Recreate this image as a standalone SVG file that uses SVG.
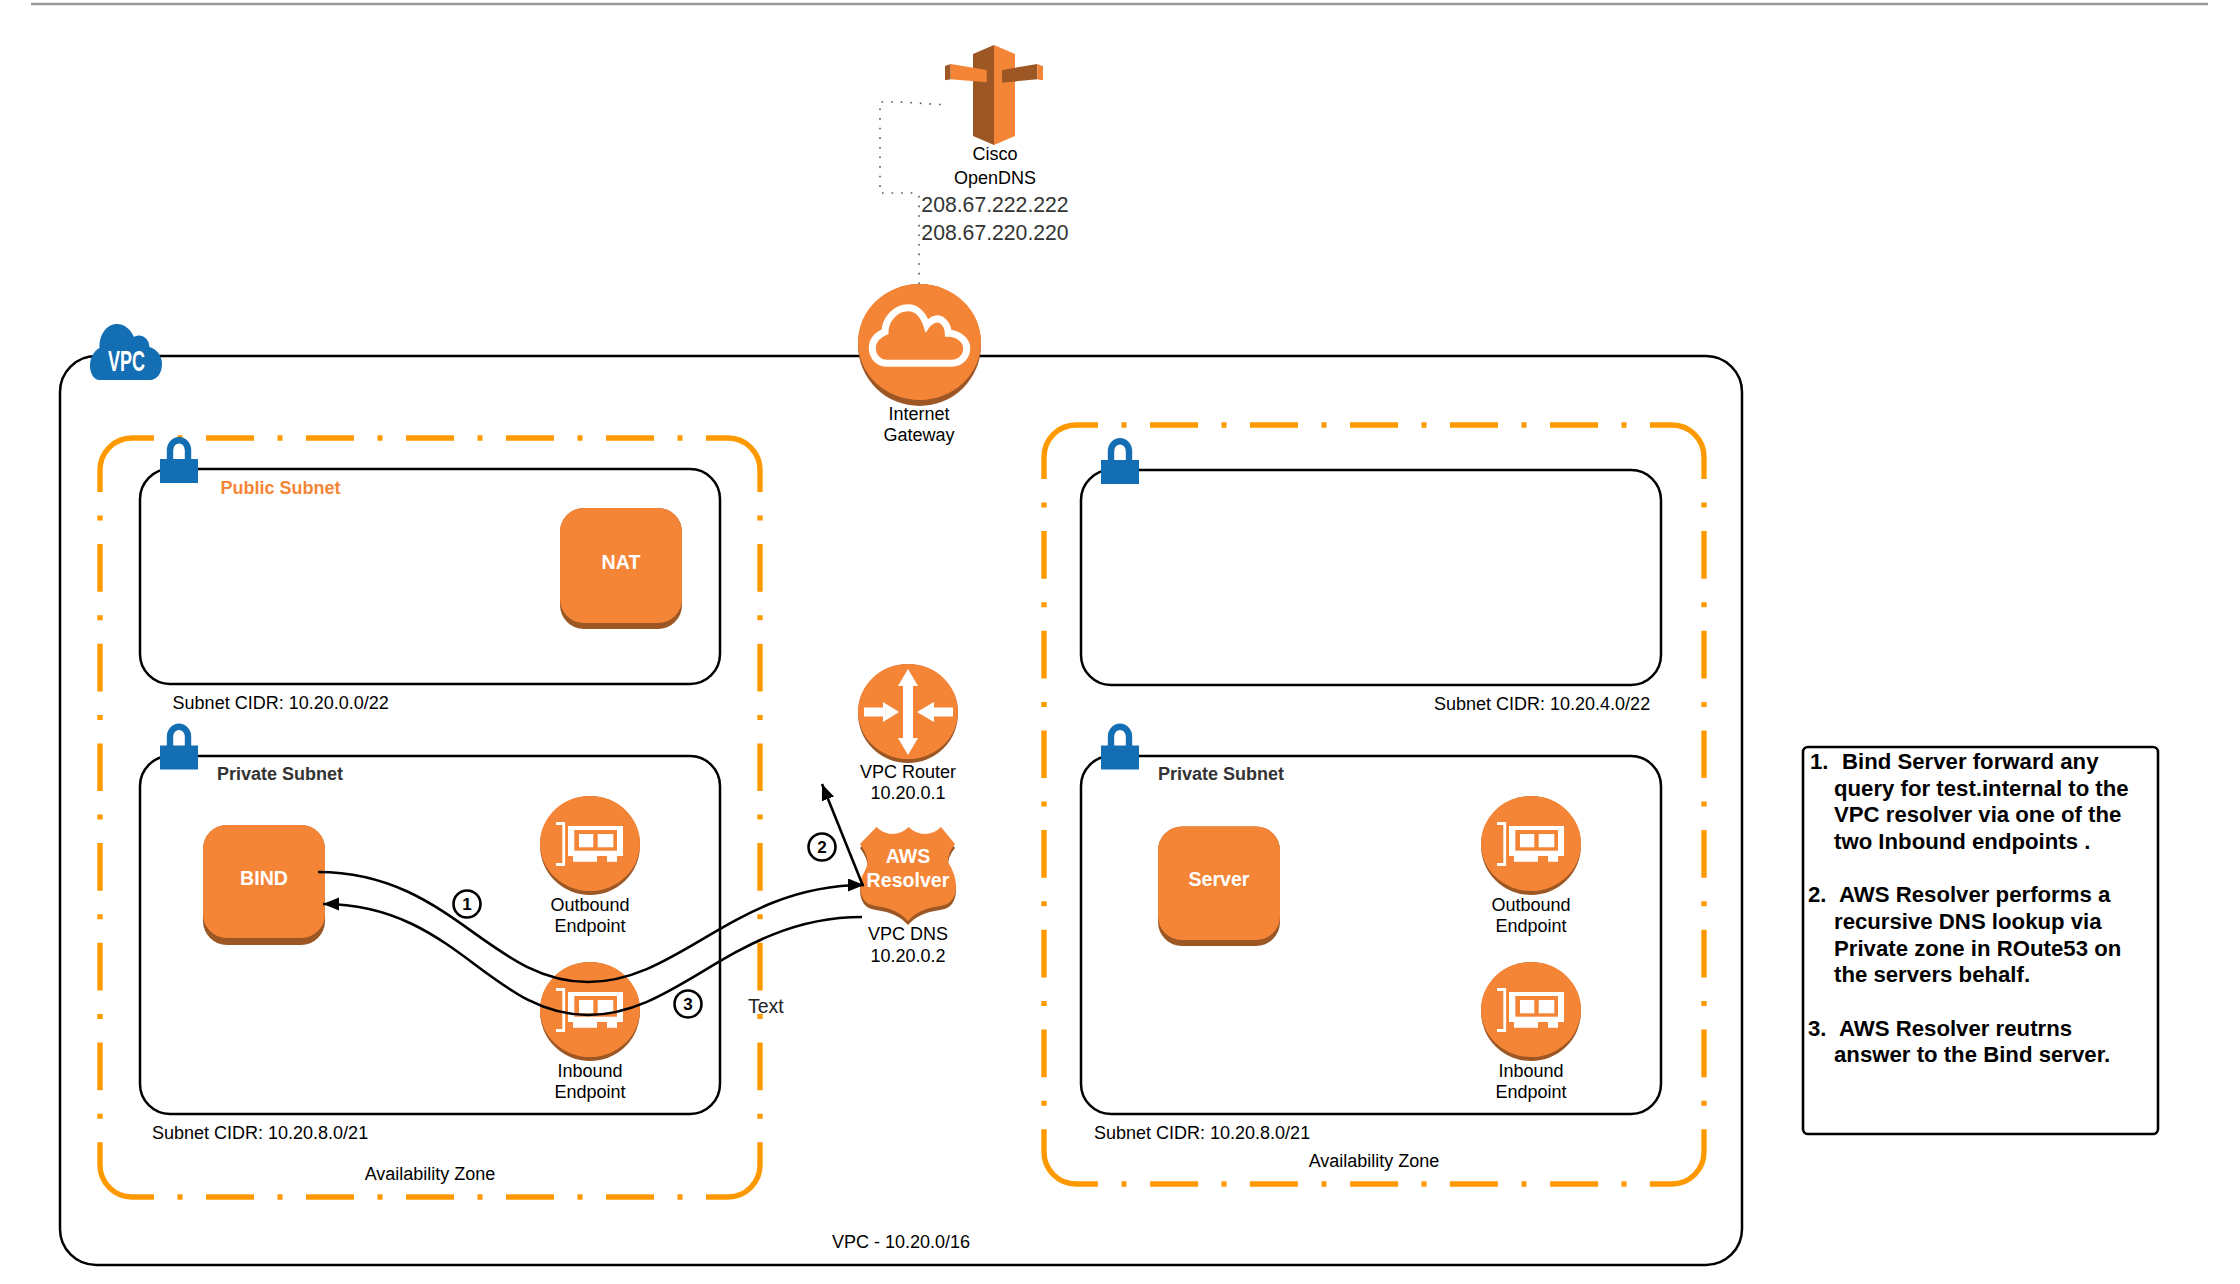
<svg xmlns="http://www.w3.org/2000/svg" xmlns:xlink="http://www.w3.org/1999/xlink" width="2240" height="1284" viewBox="0 0 2240 1284">
<style>
text{font-family:"Liberation Sans",Arial,sans-serif;font-size:18px;fill:#000}
.m{text-anchor:middle}
.b{font-weight:bold}
.w{fill:#fff;font-weight:bold;text-anchor:middle}
.sub{fill:#333;font-weight:bold}
.box{font-size:22.2px;font-weight:bold}
.frame{fill:#fff;stroke:#000;stroke-width:2.5}
.az{fill:none;stroke:#f90;stroke-width:5.4}
.azh{stroke-dasharray:48 23.5 5 23.5;stroke-dashoffset:48}
.azv{stroke-dasharray:47.7 23.5 5 23.5;stroke-dashoffset:47.7}
.o{fill:#F58536}
.d{fill:#9D5725}
.bl{fill:#146EB4}
.wf{fill:#fff}
.con{fill:none;stroke:#000;stroke-width:2.6}
.dot{fill:none;stroke:#555;stroke-width:1.6;stroke-dasharray:1.6 8}
.num{fill:#fff;stroke:#000;stroke-width:2.6}
</style>
<defs>
<marker id="ah" markerUnits="userSpaceOnUse" markerWidth="18" markerHeight="14" refX="16" refY="6.5" orient="auto"><path d="M0,0 L16,6.5 L0,13 Z" fill="#000"/></marker>
<g id="disc"><ellipse cx="0" cy="49.5" rx="50" ry="49.5" class="d"/><ellipse cx="0" cy="47.5" rx="50" ry="47.5" class="o"/></g>
<g id="card"><path d="M-34,27.5 H-26.3 V68.5 H-34" fill="none" stroke="#fff" stroke-width="2.8"/><path class="wf" d="M-22,30 H33 V60 H27 V65.7 H17 V60 H7 V65.7 H-17 V60 H-22 Z"/><rect class="o" x="-15.7" y="34" width="42.7" height="20.7"/><rect class="wf" x="-11" y="38" width="14.3" height="13.3"/><rect class="wf" x="7.7" y="38" width="15.6" height="13.3"/></g>
<g id="lock"><rect class="bl" x="0" y="22" width="38" height="24"/><path d="M10,24 V13 A8.7,9.5 0 0 1 28,13 V24" fill="none" stroke="#146EB4" stroke-width="6.4"/></g>
<path id="shield" d="M876.5,827 Q884,834 892,834 Q902,834 908.5,827 Q916,834 925,834 Q934,834 941,827 L955,844 Q948,852 948,862 Q956,875 956,886 C956,898 950,905 940,906 C925,908 915,913 908,921 C901,913 891,908 876,906 C866,905 860,898 860,886 C860,875 867.5,870 867.5,862 C867.5,855 864,850 860,844 Z"/>
</defs>
<rect width="2240" height="1284" fill="#fff"/>
<line x1="31" y1="4" x2="2208" y2="4" stroke="#999" stroke-width="2.4"/>

<g id="vpc">
<rect class="frame" x="60" y="356" width="1682" height="909" rx="36"/>
<text class="m" x="901" y="1248">VPC - 10.20.0/16</text>
</g>

<g id="az-left">
<path class="az" d="M100,492 V470 A32,32 0 0 1 132,438 H154 M706,438 H728 A32,32 0 0 1 760,470 V492 M760,1143 V1165 A32,32 0 0 1 728,1197 H706 M154,1197 H132 A32,32 0 0 1 100,1165 V1143"/>
<path class="az azh" d="M154,438 H706 M154,1197 H706"/>
<path class="az azv" d="M100,492 V1143 M760,492 V1143"/>
<text class="m" x="430" y="1180">Availability Zone</text>
</g>
<g id="az-right">
<path class="az" d="M1044,479 V457 A32,32 0 0 1 1076,425 H1098 M1650,425 H1672 A32,32 0 0 1 1704,457 V479 M1704,1130 V1152 A32,32 0 0 1 1672,1184 H1650 M1098,1184 H1076 A32,32 0 0 1 1044,1152 V1130"/>
<path class="az azh" d="M1098,425 H1650 M1098,1184 H1650"/>
<path class="az azv" d="M1044,479 V1130 M1704,479 V1130"/>
<text class="m" x="1374" y="1167">Availability Zone</text>
</g>

<g id="subnet-public-left">
<rect class="frame" x="140" y="469" width="580" height="215" rx="30"/>
<use xlink:href="#lock" href="#lock" x="160" y="437"/>
<text class="b" x="220.5" y="494" style="fill:#F58536">Public Subnet</text>
<text x="172.6" y="709">Subnet CIDR: 10.20.0.0/22</text>
</g>
<g id="subnet-private-left">
<rect class="frame" x="140" y="756" width="580" height="358" rx="30"/>
<use xlink:href="#lock" href="#lock" x="160" y="723.5"/>
<text class="sub" x="217" y="780">Private Subnet</text>
<text x="152" y="1139">Subnet CIDR: 10.20.8.0/21</text>
</g>
<g id="subnet-public-right">
<rect class="frame" x="1081" y="470" width="580" height="215" rx="30"/>
<use xlink:href="#lock" href="#lock" x="1101" y="438"/>
<text x="1434" y="709.5">Subnet CIDR: 10.20.4.0/22</text>
</g>
<g id="subnet-private-right">
<rect class="frame" x="1081" y="756" width="580" height="358" rx="30"/>
<use xlink:href="#lock" href="#lock" x="1101" y="723.5"/>
<text class="sub" x="1158" y="780">Private Subnet</text>
<text x="1094" y="1138.5">Subnet CIDR: 10.20.8.0/21</text>
</g>

<g id="vpc-badge">
<path class="bl" d="M100,380 C93,380 90,372 90,366 C90,357 94,351 99.5,348 C99,334 107,324 117,324 C125,324 131,330 134,337 C140,333 149,337 149.5,347 C157,349 162,356 162,364 C162,373 157,380 150,380 Z"/>
<text class="b" x="108" y="371" style="font-size:29.3px;fill:#fff" textLength="37" lengthAdjust="spacingAndGlyphs">VPC</text>
</g>

<g id="cisco-opendns">
<polygon class="d" points="973,54 994,45 994,145 973,136"/>
<polygon class="o" points="994,45 1015,54 1015,136 994,145"/>
<polygon class="d" points="945,66 950.7,64 950.7,79.3 945,80.3"/>
<polygon class="o" points="950.7,64 986.7,70 986.7,82.3 950.7,79.3"/>
<polygon class="d" points="1002,70 1037.3,64 1037.3,79.3 1002,82.7"/>
<polygon class="o" points="1037.3,64 1043,66.3 1043,80.3 1037.3,79.3"/>
<text class="m" x="995" y="159.5">Cisco</text>
<text class="m" x="995" y="183.5">OpenDNS</text>
<text class="m" x="995" y="212" style="font-size:21.2px;fill:#333">208.67.222.222</text>
<text class="m" x="995" y="240" style="font-size:21.2px;fill:#333">208.67.220.220</text>
</g>

<g id="connectors">
<path class="dot" d="M919,284 V197 Q919,193 915,193 H880 V102 H900 L948,105"/>
</g>

<g id="internet-gateway">
<ellipse cx="919.5" cy="345" rx="61.5" ry="61" class="d"/>
<ellipse cx="919.5" cy="342" rx="61.5" ry="58" class="o"/>
<path fill="none" stroke="#fff" stroke-width="7" d="M886.7,363.3 H951.7 C961,363.3 966.7,356 966.7,348.3 C966.7,340 958,333.3 948.3,333.3 C948,324 941,316 933,320 C930,322 928,323 926.7,325 C923,314 916,307.7 908.3,307.7 C895,307.7 885,320 885,331.7 C877,335 872.3,341 872.3,348 C872.3,357 879,363.3 886.7,363.3 Z"/>
<text class="m" x="919" y="419.5">Internet</text>
<text class="m" x="919" y="441">Gateway</text>
</g>

<g id="nat">
<rect class="d" x="560" y="508" width="122" height="121" rx="24"/>
<rect class="o" x="560" y="508" width="122" height="115" rx="24"/>
<text class="w" x="621" y="568.5" style="font-size:19.6px">NAT</text>
</g>
<g id="bind">
<rect class="d" x="203" y="825" width="122" height="120" rx="24"/>
<rect class="o" x="203" y="825" width="122" height="113" rx="24"/>
<text class="w" x="264" y="885" style="font-size:19.6px">BIND</text>
</g>
<g id="server">
<rect class="d" x="1158" y="826.5" width="122" height="119.5" rx="24"/>
<rect class="o" x="1158" y="826.5" width="122" height="113.5" rx="24"/>
<text class="w" x="1219" y="886" style="font-size:19.6px">Server</text>
</g>

<g id="outbound-left">
<use xlink:href="#disc" href="#disc" x="590" y="796"/><use xlink:href="#card" href="#card" x="590" y="796"/>
<text class="m" x="590" y="910.5">Outbound</text><text class="m" x="590" y="932">Endpoint</text>
</g>
<g id="inbound-left">
<use xlink:href="#disc" href="#disc" x="590" y="962"/><use xlink:href="#card" href="#card" x="590" y="962"/>
<text class="m" x="590" y="1076.5">Inbound</text><text class="m" x="590" y="1098">Endpoint</text>
</g>
<g id="outbound-right">
<use xlink:href="#disc" href="#disc" x="1531" y="796"/><use xlink:href="#card" href="#card" x="1531" y="796"/>
<text class="m" x="1531" y="910.5">Outbound</text><text class="m" x="1531" y="932">Endpoint</text>
</g>
<g id="inbound-right">
<use xlink:href="#disc" href="#disc" x="1531" y="962"/><use xlink:href="#card" href="#card" x="1531" y="962"/>
<text class="m" x="1531" y="1076.5">Inbound</text><text class="m" x="1531" y="1098">Endpoint</text>
</g>

<g id="vpc-router">
<use xlink:href="#disc" href="#disc" x="908" y="664"/>
<polygon class="wf" points="908,669 918,686 913,686 913,738 918,738 908,755 898,738 903,738 903,686 898,686"/>
<polygon class="wf" points="864,707.5 883,707.5 883,702 899,712 883,722 883,716.5 864,716.5"/>
<polygon class="wf" points="953,707.5 934,707.5 934,702 917,712 934,722 934,716.5 953,716.5"/>
<text class="m" x="908" y="777.5">VPC Router</text>
<text class="m" x="908" y="799">10.20.0.1</text>
</g>

<g id="aws-resolver">
<use xlink:href="#shield" href="#shield" class="d" y="4"/>
<use xlink:href="#shield" href="#shield" class="o"/>
<text class="w" x="908" y="863" style="font-size:19.6px">AWS</text>
<text class="w" x="908" y="887" style="font-size:19.6px">Resolver</text>
<text class="m" x="908" y="940">VPC DNS</text>
<text class="m" x="908" y="962">10.20.0.2</text>
</g>

<g id="flow-connectors">
<path class="con" marker-end="url(#ah)" d="M318,872 C450,872 490,982 588,982 C680,982 735,885 864,885"/>
<path class="con" marker-end="url(#ah)" d="M862,917 C735,917 680,1015 588,1015 C490,1015 455,904 323,904"/>
<path class="con" marker-end="url(#ah)" d="M863,886 L822,784"/>
</g>

<g id="step-1"><circle class="num" cx="467" cy="904" r="13.5"/><text class="m b" x="467" y="910" style="font-size:17px">1</text></g>
<g id="step-2"><circle class="num" cx="822" cy="847" r="13.5"/><text class="m b" x="822" y="853" style="font-size:17px">2</text></g>
<g id="step-3"><circle class="num" cx="688" cy="1004" r="13.5"/><text class="m b" x="688" y="1010" style="font-size:17px">3</text></g>
<text x="748" y="1013" style="font-size:19.5px;fill:#222">Text</text>

<g id="notes">
<rect x="1803" y="747" width="355" height="387" rx="5" fill="#fff" stroke="#000" stroke-width="2.6"/>
<text class="box" x="1810" y="769">1.</text><text class="box" x="1842" y="769">Bind Server forward any</text>
<text class="box" x="1834" y="795.7">query for test.internal to the</text>
<text class="box" x="1834" y="822.3">VPC resolver via one of the</text>
<text class="box" x="1834" y="849">two Inbound endpoints .</text>
<text class="box" x="1808" y="902.3">2.</text><text class="box" x="1839" y="902.3">AWS Resolver performs a</text>
<text class="box" x="1834" y="929">recursive DNS lookup via</text>
<text class="box" x="1834" y="955.7">Private zone in ROute53 on</text>
<text class="box" x="1834" y="982.3">the servers behalf.</text>
<text class="box" x="1808" y="1035.7">3.</text><text class="box" x="1839" y="1035.7">AWS Resolver reutrns</text>
<text class="box" x="1834" y="1062.3">answer to the Bind server.</text>
</g>
</svg>
